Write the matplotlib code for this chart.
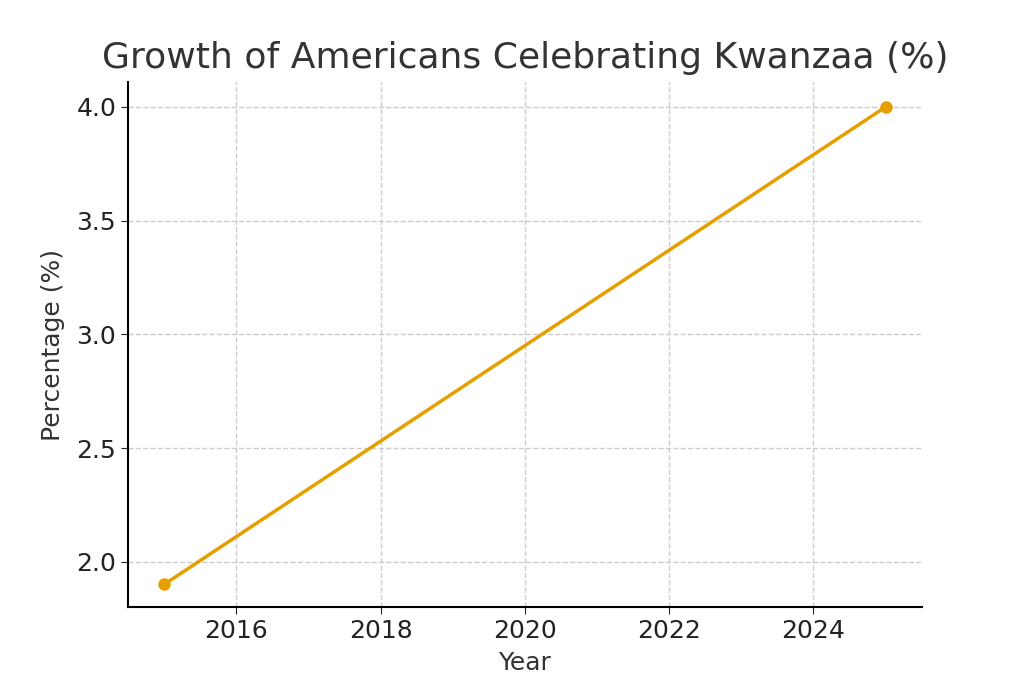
import matplotlib.pyplot as plt

# Données
years = [2015, 2025]
percentages = [1.9, 4.0]

fig = plt.figure(figsize=(10.24, 6.83), dpi=100)
ax = fig.add_axes([0.125, 0.111, 0.775, 0.769])

ax.plot(years, percentages, color='#E69F00', linewidth=2.5, marker='o', markersize=8)

ax.set_title("Growth of Americans Celebrating Kwanzaa (%)", fontsize=26, color='#333333', pad=10)
ax.set_xlabel("Year", fontsize=18, color='#333333', labelpad=6)
ax.set_ylabel("Percentage (%)", fontsize=18, color='#333333', labelpad=8)
ax.tick_params(labelsize=18, colors='#222222', length=5)
ax.set_xticks([2016, 2018, 2020, 2022, 2024])
ax.set_yticks([2.0, 2.5, 3.0, 3.5, 4.0])
ax.set_xlim(2014.5, 2025.5)
ax.set_ylim(1.8, 4.11)

ax.grid(True, linestyle='--', color='#cccccc', linewidth=1)
ax.spines['top'].set_visible(False)
ax.spines['right'].set_visible(False)
ax.spines['left'].set_linewidth(1.5)
ax.spines['bottom'].set_linewidth(1.5)

fig.savefig("out.png", dpi=100)
